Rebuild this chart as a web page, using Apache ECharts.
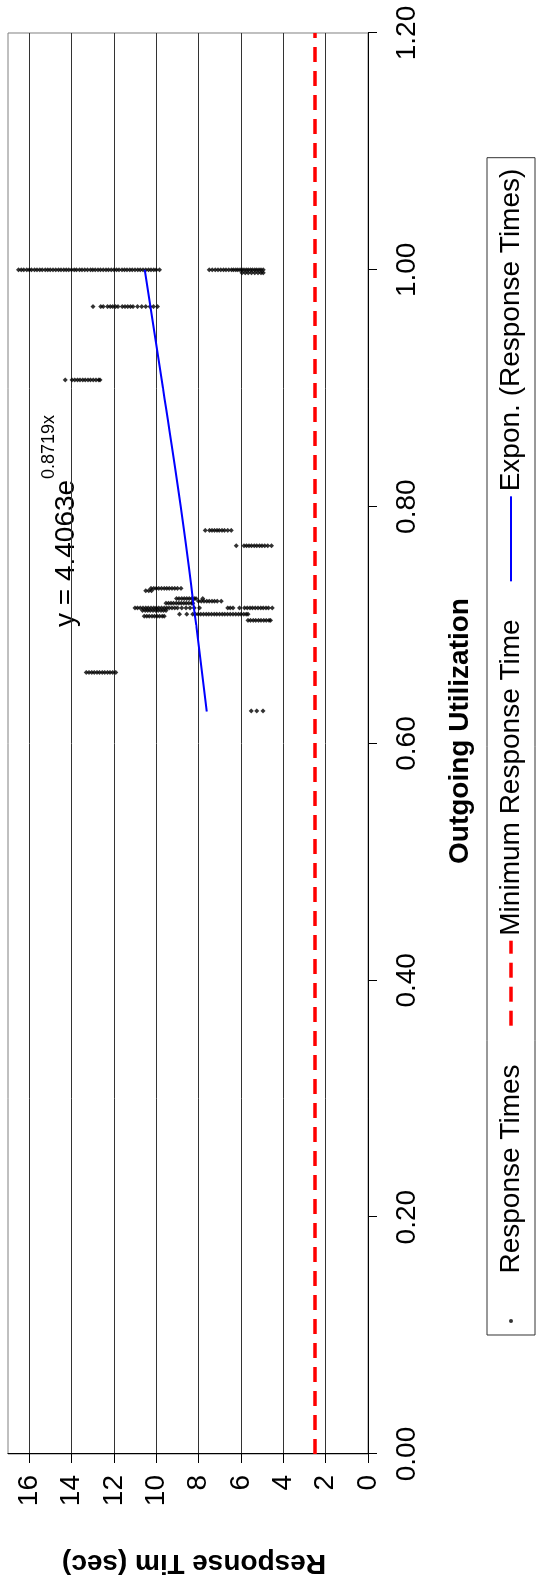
<!DOCTYPE html>
<html>
<head>
<meta charset="utf-8">
<script src="https://cdn.jsdelivr.net/npm/echarts@6.0.0/dist/echarts.min.js"></script>
<style>
  html, body { margin: 0; padding: 0; background: #fff; overflow: hidden; }
  /* the chart is drawn landscape and turned a quarter turn, like the source */
  #chart {
    position: absolute; left: 0; top: 0;
    width: 1585px; height: 541px;
    transform-origin: 0 0;
    transform: translateY(1585px) rotate(-90deg);
  }
</style>
</head>
<body>
<div id="chart"></div>
<script>
// utilization level of each row of samples, and the response times seen at that level
var utilRows = [1.000, 1.000, 0.9975, 0.969, 0.907, 0.780, 0.767, 0.731, 0.729,
                0.7224, 0.7202, 0.7185, 0.7145, 0.7123, 0.7092, 0.7075, 0.704, 0.660, 0.6275];
var respRows = [
  [16.5, 16.37, 16.26, 16.12, 16.0, 15.89, 15.75, 15.63, 15.5, 15.38, 15.24, 15.12, 15.0, 14.88,
   14.74, 14.62, 14.5, 14.37, 14.25, 14.13, 14.0, 13.87, 13.76, 13.62, 13.5, 13.38, 13.25, 13.11,
   13.0, 12.88, 12.75, 12.63, 12.5, 12.37, 12.25, 12.12, 12.0, 11.88, 11.76, 11.62, 11.5, 11.38,
   11.25, 11.13, 11.0, 10.87, 10.75, 10.63, 10.5, 10.37, 10.25, 10.12, 10.0, 9.85],
  [7.5, 7.35, 7.21, 7.08, 6.95, 6.82, 6.7, 6.58, 6.45, 6.35, 6.25, 6.15, 6.05, 5.95, 5.85, 5.75,
   5.65, 5.55, 5.45, 5.35, 5.25, 5.15, 5.05, 4.95],
  [5.95, 5.8, 5.65, 5.5, 5.35, 5.2, 5.05, 4.95],
  [12.99, 12.62, 12.5, 12.3, 12.17, 12.05, 11.92, 11.8, 11.6, 11.47, 11.35, 11.22, 11.1,
   10.89, 10.68, 10.49, 10.3, 10.13, 9.94],
  [14.3, 13.98, 13.85, 13.72, 13.6, 13.47, 13.35, 13.22, 13.1, 12.97, 12.85, 12.72, 12.65],
  [7.68, 7.49, 7.37, 7.25, 7.13, 7.02, 6.9, 6.78, 6.62, 6.46],
  [6.22, 5.86, 5.74, 5.62, 5.5, 5.37, 5.25, 5.12, 5.0, 4.88, 4.73, 4.56],
  [10.25, 10.12, 10.0, 9.88, 9.75, 9.62, 9.5, 9.38, 9.25, 9.12, 9.0, 8.83],
  [10.49, 10.35, 10.22],
  [9.04, 8.92, 8.8, 8.68, 8.56, 8.44, 8.32, 8.2, 8.12, 7.8],
  [8.0, 7.88, 7.75, 7.62, 7.5, 7.37, 7.25, 7.12, 6.93],
  [9.54, 9.42, 9.3, 9.18, 9.06, 8.94, 8.82, 8.7, 8.58, 8.46, 8.34, 8.28],
  [11.0, 10.88, 10.75, 10.62, 10.5, 10.38, 10.25, 10.12, 10.0, 9.88, 9.75, 9.62, 9.5, 9.38,
   9.25, 9.12, 9.0, 8.8, 8.6, 8.4, 8.2, 7.96, 6.62, 6.5, 6.38, 6.07, 5.83, 5.7, 5.57, 5.45,
   5.32, 5.2, 5.07, 4.95, 4.82, 4.7, 4.52],
  [10.65, 10.52, 10.4, 10.28, 10.15, 10.02, 9.9, 9.78, 9.66, 9.54],
  [8.9, 8.56, 8.28, 8.15, 8.02, 7.9, 7.77, 7.64, 7.52, 7.39, 7.26, 7.14, 7.01, 6.88, 6.76,
   6.63, 6.5, 6.38, 6.25, 6.12, 6.0, 5.87, 5.75, 5.67],
  [10.57, 10.45, 10.33, 10.2, 10.08, 9.96, 9.84, 9.72, 9.62],
  [5.67, 5.55, 5.42, 5.3, 5.17, 5.05, 4.92, 4.8, 4.68, 4.61],
  [13.3, 13.18, 13.05, 12.93, 12.8, 12.68, 12.55, 12.43, 12.3, 12.18, 12.05, 11.91],
  [5.51, 5.25, 4.96]
];

// exponential trend line
var trendUtil = [0.627, 0.70, 0.80, 0.90, 1.00];
var trendResp = [7.61, 8.11, 8.84, 9.68, 10.54];

// minimum response time
var minUtil = [0, 1.2];
var minResp = [2.5, 2.5];

var FONT = '"Liberation Sans", Arial, sans-serif';

var points = [];
utilRows.forEach(function (u, i) {
  respRows[i].forEach(function (v) { points.push([u, v]); });
});
var trend = trendUtil.map(function (u, i) { return [u, trendResp[i]]; });
var minLine = minUtil.map(function (u, i) { return [u, minResp[i]]; });

var chart = echarts.init(document.getElementById('chart'), null, { renderer: 'canvas' });

var option = {
  backgroundColor: '#fff',
  animation: false,
  textStyle: { fontFamily: FONT },
  grid: {
    left: 127, right: 33, top: 8, bottom: 173,
    containLabel: false,
    show: true, borderColor: '#808080', borderWidth: 1, backgroundColor: '#fff'
  },
  xAxis: {
    type: 'value',
    min: 0, max: 1.2, interval: 0.2,
    name: 'Outgoing Utilization',
    nameLocation: 'middle',
    nameGap: 78,
    nameTextStyle: { fontFamily: FONT, fontSize: 28, fontWeight: 'bold', color: '#000',
                     padding: [0, 0, 0, 25] },
    axisLine: { show: true, onZero: false, lineStyle: { color: '#000', width: 1 } },
    axisTick: { show: true, inside: false, length: 9, lineStyle: { color: '#000' } },
    axisLabel: {
      margin: 25, fontFamily: FONT, fontSize: 28, color: '#000',
      formatter: function (v) { return v.toFixed(2); }
    },
    splitLine: { show: false }
  },
  yAxis: {
    type: 'value',
    min: 0, max: 17, interval: 2,
    name: 'Response Tim (sec)',
    nameLocation: 'middle',
    nameRotate: 90,
    nameGap: 95,
    nameTextStyle: { fontFamily: FONT, fontSize: 28, fontWeight: 'bold', color: '#000',
                     padding: [0, 12, 0, 0] },
    axisLine: { show: true, lineStyle: { color: '#000', width: 1 } },
    axisTick: { show: true, inside: false, length: 9, lineStyle: { color: '#000' } },
    axisLabel: {
      margin: 21, fontFamily: FONT, fontSize: 28, color: '#000',
      showMaxLabel: false,
      formatter: function (v) { return v === 17 ? '' : String(v); }
    },
    splitLine: { show: true, showMaxLine: false, lineStyle: { color: '#333', width: 1 } }
  },
  legend: {
    left: 250, top: 487,
    orient: 'horizontal',
    padding: [10, 11, 10, 12],
    itemGap: 37,
    itemWidth: 85,
    itemHeight: 4,
    borderColor: '#333', borderWidth: 1, backgroundColor: '#fff',
    textStyle: { fontFamily: FONT, fontSize: 28, color: '#000' },
    selectedMode: false,
    data: [
      { name: 'Response Times', icon: 'circle' },
      { name: 'Minimum Response Time', lineStyle: { width: 3.5 }, itemStyle: { opacity: 0 } },
      { name: 'Expon. (Response Times)', lineStyle: { width: 2 }, itemStyle: { opacity: 0 } }
    ]
  },
  graphic: [
    { type: 'text', left: 958, top: 52, silent: true,
      style: { text: 'y = 4.4063e', font: '28px ' + FONT, fill: '#000' } },
    { type: 'text', left: 1106, top: 40, silent: true,
      style: { text: '0.8719x', font: '18px ' + FONT, fill: '#000' } }
  ],
  series: [
    {
      name: 'Response Times',
      type: 'scatter',
      symbol: 'diamond',
      symbolSize: 5,
      itemStyle: { color: '#000' },
      data: points
    },
    {
      name: 'Minimum Response Time',
      type: 'line',
      symbol: 'none',
      lineStyle: { color: '#ff0000', width: 3.5, type: [15, 9] },
      itemStyle: { color: '#ff0000' },
      data: minLine
    },
    {
      name: 'Expon. (Response Times)',
      type: 'line',
      symbol: 'none',
      smooth: true,
      lineStyle: { color: '#0000ff', width: 2 },
      itemStyle: { color: '#0000ff' },
      data: trend
    }
  ]
};

chart.setOption(option);
</script>
</body>
</html>
